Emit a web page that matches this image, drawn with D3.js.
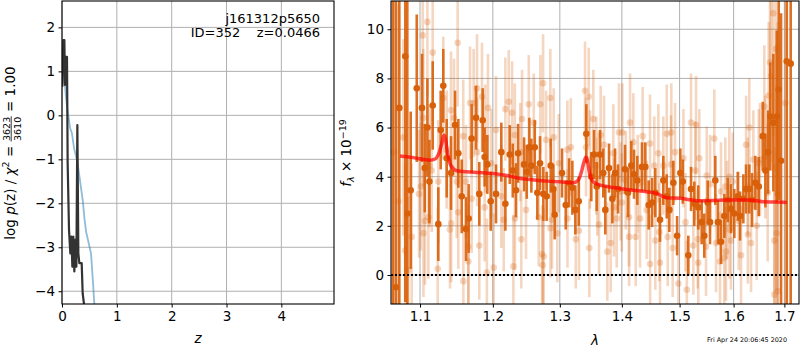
<!DOCTYPE html>
<html>
<head>
<meta charset="utf-8">
<script src="https://cdn.jsdelivr.net/npm/d3@7"></script>
<style>
  body { margin: 0; background: #fff; }
  svg { display: block; font-family: "DejaVu Sans", sans-serif; }
</style>
</head>
<body>
<div id="chart"></div>
<script>
// ---- data ----
// left panel: log p(z) curves
const zFit = [0.006, 0.024, 0.043, 0.055, 0.067, 0.091, 0.103, 0.128, 0.152, 0.170, 0.189, 0.207, 0.225, 0.243, 0.262, 0.280, 0.298, 0.316, 0.359, 0.377, 0.401, 0.42];
const logpFit = [0.65, 1.71, 1.71, 0.69, 1.33, 1.33, -1.09, -2.61, -3.14, -2.76, -3.44, -2.76, -3.55, -2.83, -3.44, -0.22, -3.14, -3.36, -3.36, -4.05, -4.29, -4.8];
const zPhot = [0.005, 0.02, 0.04, 0.07, 0.10, 0.12, 0.15, 0.18, 0.22, 0.28, 0.33, 0.38, 0.41, 0.44, 0.50, 0.53, 0.56, 0.60];
const logpPhot = [0.7, 1.2, 0.9, 0.45, 0.1, -0.05, -0.3, -0.4, -0.75, -1.05, -1.5, -1.95, -2.35, -2.65, -2.98, -3.15, -3.7, -4.5];
const zTicks = [0, 1, 2, 3, 4];
const logpTicks = [-4, -3, -2, -1, 0, 1, 2];
const objName = 'j161312p5650';
const objInfo = 'ID=352    z=0.0466';

// right panel: spectrum [lambda, flux, error]
const binned = [
  [1.0650, 12.0, 14], [1.0688, -0.5, 12], [1.0731, 6.8, 12], [1.0808, 8.9, 10], [1.0834, 2.5, 9],
  [1.0878, 3.45, 3.2], [1.0957, 7.6, 3.0], [1.1026, 6.8, 2.2], [1.1062, 4.35, 1.8], [1.1097, 6.0, 2.0],
  [1.1124, 3.8, 1.7], [1.1168, 6.9, 1.8], [1.1243, 2.07, 1.5], [1.1275, 5.9, 1.6], [1.1310, 7.7, 1.5],
  [1.1356, 4.75, 1.6], [1.1415, 4.15, 1.5], [1.1470, 6.1, 1.4], [1.1515, 4.95, 1.4], [1.1562, 3.2, 1.5],
  [1.1621, 1.87, 1.3], [1.1658, 2.3, 1.4], [1.1700, 5.55, 1.4], [1.1761, 6.4, 1.3], [1.1807, 3.3, 1.3],
  [1.1855, 6.3, 1.3], [1.1883, 4.8, 1.2], [1.1921, 4.5, 1.2], [1.1969, 3.0, 1.2], [1.2045, 3.3, 1.2],
  [1.2122, 5.0, 1.2], [1.2181, 2.9, 1.1], [1.2245, 4.9, 1.2], [1.2289, 4.25, 1.1], [1.2337, 3.45, 1.1],
  [1.2367, 4.95, 1.2], [1.2456, 4.5, 1.1], [1.2496, 4.2, 1.1], [1.2535, 5.2, 1.2], [1.2565, 4.45, 1.1],
  [1.2616, 5.2, 1.1], [1.2655, 3.35, 1.1], [1.2696, 4.55, 1.1], [1.2746, 3.3, 1.1], [1.2797, 3.2, 1.0],
  [1.2859, 4.45, 1.1], [1.2899, 3.5, 1.0], [1.2920, 2.45, 1.0], [1.3034, 4.15, 1.0], [1.3092, 2.85, 1.0],
  [1.3144, 3.75, 1.0], [1.3196, 3.55, 1.1], [1.3243, 2.65, 1.0], [1.3297, 3.0, 1.0], [1.3418, 5.75, 1.2],
  [1.3498, 4.0, 1.0], [1.3542, 4.9, 1.0], [1.3585, 3.6, 1.0], [1.3639, 4.9, 1.0], [1.3693, 4.15, 1.0],
  [1.3726, 2.65, 1.0], [1.3787, 4.35, 1.0], [1.3842, 3.1, 1.0], [1.3886, 4.15, 1.0], [1.3936, 3.5, 1.0],
  [1.4053, 4.3, 1.0], [1.4103, 3.35, 1.0], [1.4159, 4.45, 1.0], [1.4205, 4.1, 1.0], [1.4261, 3.85, 1.0],
  [1.4341, 4.4, 1.0], [1.4398, 4.4, 1.0], [1.4456, 2.85, 1.0], [1.4514, 2.95, 1.0], [1.4571, 3.35, 1.0],
  [1.4653, 2.25, 0.9], [1.4711, 3.85, 1.0], [1.4771, 3.2, 0.9], [1.4817, 2.65, 0.9], [1.4888, 3.75, 0.9],
  [1.4955, 1.6, 0.8], [1.5013, 4.15, 1.0], [1.5057, 3.8, 0.9], [1.5157, 0.8, 0.8], [1.5206, 3.5, 0.9],
  [1.5266, 2.9, 0.9], [1.5339, 2.75, 0.9], [1.5401, 2.15, 0.9], [1.5449, 1.6, 0.9], [1.5512, 2.95, 0.9],
  [1.5555, 2.15, 0.9], [1.5654, 3.85, 1.0], [1.5704, 2.15, 0.9], [1.5761, 1.35, 0.9], [1.5823, 2.4, 0.9],
  [1.5887, 3.05, 0.9], [1.5950, 2.7, 1.0], [1.6013, 2.5, 1.0], [1.6079, 3.2, 1.0], [1.6123, 2.4, 1.0],
  [1.6187, 3.1, 1.0], [1.6240, 3.5, 1.0], [1.6303, 3.5, 1.0], [1.6356, 3.05, 1.1], [1.6421, 3.75, 1.1],
  [1.6488, 3.6, 1.2], [1.6567, 5.65, 1.4], [1.6619, 4.25, 1.5], [1.6672, 5.0, 1.7], [1.6717, 6.45, 2.2],
  [1.6778, 6.2, 2.8], [1.6846, 6.45, 3.5], [1.6886, 7.55, 4.5], [1.6933, 4.65, 6], [1.7048, 8.7, 12],
  [1.7129, 8.6, 12]
];
const raw = [
  [1.0665, 5.0, 9], [1.0720, 3.0, 8], [1.0783, 5.6, 4.0], [1.0805, 1.0, 3.5], [1.0847, 0.2, 3.0],
  [1.0891, 1.55, 3.0], [1.0987, 3.3, 2.6], [1.1009, 3.6, 2.6], [1.1036, 9.75, 3.0], [1.1043, 6.4, 2.8],
  [1.1045, 1.7, 2.6], [1.1066, 2.2, 2.6], [1.1097, 10.3, 3.0], [1.1110, 2.35, 2.5], [1.1124, 4.45, 2.5],
  [1.1155, 4.25, 2.5], [1.1168, 9.05, 2.8], [1.1235, 0.25, 2.5], [1.1243, 3.8, 2.5], [1.1310, 7.2, 2.5],
  [1.1356, 5.1, 2.4], [1.1401, 1.85, 2.4], [1.1415, 6.7, 2.4], [1.1417, 2.1, 2.4], [1.1456, 6.4, 2.4],
  [1.1493, 3.8, 2.3], [1.1506, 9.45, 2.6], [1.1515, 2.55, 2.3], [1.1583, 5.65, 2.3], [1.1585, -0.25, 2.3],
  [1.1621, 3.8, 2.3], [1.1653, 1.15, 2.3], [1.1655, 0.55, 2.3], [1.1677, 7.0, 2.3], [1.1700, 3.1, 2.2],
  [1.1728, 7.0, 2.2], [1.1775, 7.6, 2.2], [1.1777, 5.0, 2.2], [1.1807, 1.2, 2.2], [1.1845, 7.25, 2.2],
  [1.1883, 2.75, 2.2], [1.1891, 5.55, 2.2], [1.1915, 0.1, 2.2], [1.1930, 6.8, 2.2], [1.1977, 4.55, 2.2],
  [1.2012, 0.3, 2.2], [1.2045, 5.9, 2.2], [1.2122, 3.2, 2.1], [1.2157, 2.25, 2.1], [1.2181, 6.75, 2.1],
  [1.2230, 7.05, 2.1], [1.2279, 6.6, 2.1], [1.2298, 0.35, 2.1], [1.2319, 5.7, 2.1], [1.2321, 2.3, 2.1],
  [1.2400, 5.0, 2.0], [1.2415, 1.45, 2.0], [1.2426, 6.35, 2.0], [1.2485, 2.65, 2.0], [1.2526, 6.95, 2.0],
  [1.2601, 6.2, 2.0], [1.2676, 2.35, 2.0], [1.2701, 6.95, 2.0], [1.2727, 0.85, 2.0], [1.2737, 0.4, 2.0],
  [1.2742, 7.8, 2.0], [1.2752, 0.75, 2.0], [1.2787, 5.5, 2.0], [1.2853, 7.2, 2.0], [1.2855, 1.9, 2.0],
  [1.2879, 2.25, 2.0], [1.2905, 5.6, 2.0], [1.2961, 1.7, 2.0], [1.2983, 4.55, 2.0], [1.3117, 5.1, 2.0],
  [1.3119, 2.3, 2.0], [1.3171, 5.2, 2.0], [1.3250, 1.45, 2.0], [1.3301, 1.8, 2.0], [1.3397, 7.5, 2.0],
  [1.3413, 5.2, 2.0], [1.3456, 7.25, 2.0], [1.3466, 1.1, 2.0], [1.3477, 4.7, 2.0], [1.3530, 6.35, 2.0],
  [1.3579, 4.45, 2.0], [1.3595, 3.6, 2.0], [1.3623, 2.05, 2.0], [1.3650, 5.7, 2.0], [1.3705, 5.3, 2.0],
  [1.3759, 0.95, 2.0], [1.3814, 1.3, 2.0], [1.3858, 4.95, 2.0], [1.3869, 2.75, 2.0], [1.3914, 2.3, 2.0],
  [1.3952, 5.8, 2.0], [1.3981, 3.4, 2.0], [1.3998, 2.95, 2.0], [1.4008, 5.8, 2.0], [1.4065, 3.85, 2.0],
  [1.4120, 2.35, 2.0], [1.4122, 1.55, 2.0], [1.4137, 6.2, 2.0], [1.4193, 5.4, 2.0], [1.4234, 1.55, 2.0],
  [1.4268, 3.7, 2.0], [1.4307, 2.3, 2.0], [1.4353, 5.65, 2.0], [1.4422, 2.65, 2.0], [1.4479, 5.35, 2.0],
  [1.4481, 0.45, 2.0], [1.4553, 4.45, 2.0], [1.4571, 1.4, 2.0], [1.4624, 4.95, 2.0], [1.4641, 1.75, 2.0],
  [1.4653, 0.5, 2.0], [1.4711, 4.45, 2.0], [1.4771, 5.75, 2.0], [1.4788, 1.55, 2.0], [1.4847, 4.5, 2.0],
  [1.4852, 5.8, 2.0], [1.4877, 1.1, 2.0], [1.4918, 5.0, 2.0], [1.4978, -0.35, 2.0], [1.5069, 4.75, 2.0],
  [1.5105, 2.15, 2.0], [1.5130, -0.6, 2.0], [1.5206, 6.2, 2.0], [1.5248, 1.2, 2.0], [1.5284, 4.25, 2.0],
  [1.5297, 6.1, 2.0], [1.5328, 1.45, 2.0], [1.5339, 0.5, 2.0], [1.5357, 4.75, 2.0], [1.5481, 1.15, 2.0],
  [1.5494, 4.05, 2.0], [1.5555, 3.7, 2.0], [1.5635, 5.55, 2.0], [1.5667, 1.3, 2.0], [1.5742, 0.55, 2.0],
  [1.5761, 3.4, 2.0], [1.5823, 0.7, 2.0], [1.5842, 3.6, 2.0], [1.5855, 0.95, 2.0], [1.5874, 2.65, 2.0],
  [1.5918, 4.0, 2.0], [1.5920, 1.85, 2.0], [1.5950, 1.4, 2.0], [1.5983, 3.8, 2.0], [1.6098, 2.2, 2.0],
  [1.6142, 0.8, 2.0], [1.6240, 5.3, 2.0], [1.6273, 3.6, 2.0], [1.6275, 1.65, 2.0], [1.6303, 6.0, 2.0],
  [1.6336, 1.3, 2.0], [1.6382, 4.7, 2.0], [1.6448, 2.0, 2.2], [1.6488, 4.55, 2.2], [1.6513, 4.7, 2.3],
  [1.6598, 6.85, 2.5], [1.6618, 4.8, 2.5], [1.6665, 3.35, 2.8], [1.6685, 7.3, 3.0], [1.6711, 8.65, 3.5],
  [1.6731, 8.1, 3.5], [1.6777, 10.65, 5], [1.6798, 1.4, 5], [1.6800, -0.8, 6], [1.6832, 9.2, 6],
  [1.6834, 4.35, 5], [1.6846, 1.7, 6], [1.6866, 3.3, 7], [1.6868, -0.65, 8], [1.7021, 7.0, 10]
];
const modelWave = [1.074, 1.09, 1.105, 1.113, 1.12, 1.125, 1.129, 1.132, 1.1345, 1.1365, 1.140, 1.144, 1.147, 1.155, 1.163, 1.18, 1.2, 1.22, 1.24, 1.26, 1.28, 1.30, 1.321, 1.329, 1.334, 1.338, 1.3413, 1.344, 1.3466, 1.350, 1.353, 1.364, 1.38, 1.4025, 1.42, 1.442, 1.459, 1.468, 1.477, 1.501, 1.52, 1.537, 1.56, 1.586, 1.625, 1.645, 1.658, 1.68, 1.705];
const modelFlux = [4.84, 4.78, 4.7, 4.67, 4.72, 4.95, 5.35, 5.7, 5.45, 5.0, 4.55, 4.35, 4.27, 4.22, 4.2, 4.17, 4.13, 4.05, 3.93, 3.87, 3.82, 3.79, 3.75, 3.86, 4.2, 4.6, 4.8, 4.6, 4.2, 3.9, 3.79, 3.66, 3.58, 3.5, 3.45, 3.39, 3.32, 3.22, 3.14, 3.12, 3.06, 3.02, 3.03, 3.05, 3.05, 3.02, 2.98, 2.97, 2.95];
const waveTicks = [1.1, 1.2, 1.3, 1.4, 1.5, 1.6, 1.7];
const fluxTicks = [0, 2, 4, 6, 8, 10];
const stamp = 'Fri Apr 24 20:06:45 2020';

// ---- drawing ----
const W = 800, H = 350;
const svg = d3.select('#chart').append('svg').attr('width', W).attr('height', H);
const gridColor = '#b0b0b0';
const orange = '#d9600a';

const left = { x0: 62, x1: 334, y0: 1, y1: 304 };
const right = { x0: 391, x1: 799, y0: 1, y1: 304 };

const zx = d3.scaleLinear().domain([0, 4.96]).range([left.x0, left.x1]);
const zy = d3.scaleLinear().domain([-4.29, 2.6]).range([left.y1, left.y0]);
const wx = d3.scaleLog().domain([1.0625, 1.730]).range([right.x0, right.x1]);
const fy = d3.scaleLinear().domain([-1.18, 11.15]).range([right.y1, right.y0]);

const defs = svg.append('defs');
[['clipL', left], ['clipR', right]].forEach(([id, b]) => {
    defs.append('clipPath').attr('id', id).append('rect')
        .attr('x', b.x0).attr('y', b.y0).attr('width', b.x1 - b.x0).attr('height', b.y1 - b.y0);
});

function grid(x, y, xt, yt, b) {
    const g = svg.append('g').attr('stroke', gridColor).attr('stroke-width', 1);
    g.selectAll('.gx').data(xt).join('line')
        .attr('x1', d => x(d)).attr('x2', d => x(d)).attr('y1', b.y0).attr('y2', b.y1);
    g.selectAll('.gy').data(yt).join('line')
        .attr('y1', d => y(d)).attr('y2', d => y(d)).attr('x1', b.x0).attr('x2', b.x1);
}

function axes(x, y, xt, yt, b, xf, yf) {
    const gx = svg.append('g').attr('transform', `translate(0,${b.y1})`)
        .call(d3.axisBottom(x).tickValues(xt).tickFormat(xf).tickSize(3.5).tickPadding(3.5));
    const gy = svg.append('g').attr('transform', `translate(${b.x0},0)`)
        .call(d3.axisLeft(y).tickValues(yt).tickFormat(yf).tickSize(3.5).tickPadding(3.5));
    [gx, gy].forEach(g => {
        g.select('.domain').remove();
        g.selectAll('text').attr('font-size', '13.5px').attr('font-family', '"DejaVu Sans"').attr('fill', '#000');
        g.selectAll('line').attr('stroke', '#000');
    });
    svg.append('rect').attr('x', b.x0).attr('y', b.y0).attr('width', b.x1 - b.x0).attr('height', b.y1 - b.y0)
        .attr('fill', 'none').attr('stroke', '#000').attr('stroke-width', 1.1);
}

// left panel
grid(zx, zy, zTicks, logpTicks, left);
const lp = svg.append('g').attr('clip-path', 'url(#clipL)');
const zLine = d3.line().x(d => zx(d[0])).y(d => zy(d[1]));
lp.append('path').datum(d3.zip(zPhot, logpPhot)).attr('d', zLine)
    .attr('fill', 'none').attr('stroke', '#1f77b4').attr('stroke-opacity', 0.5).attr('stroke-width', 1.8);
lp.append('path').datum(d3.zip(zFit, logpFit)).attr('d', zLine)
    .attr('fill', 'none').attr('stroke', '#333').attr('stroke-width', 2.2).attr('stroke-linejoin', 'round');
axes(zx, zy, zTicks, logpTicks, left, d3.format('d'), d3.format('d'));

svg.append('text').attr('x', 320).attr('y', 22.5).attr('text-anchor', 'end')
    .attr('font-size', '13px').text(objName);
svg.append('text').attr('x', 320).attr('y', 36.5).attr('text-anchor', 'end')
    .attr('font-size', '13px').style('white-space', 'pre').text(objInfo);

// right panel
grid(wx, fy, waveTicks, fluxTicks, right);
const rp = svg.append('g').attr('clip-path', 'url(#clipR)');

const rawG = rp.append('g');
rawG.selectAll('line').data(raw).join('line')
    .attr('x1', d => wx(d[0])).attr('x2', d => wx(d[0]))
    .attr('y1', d => fy(d[1] - d[2])).attr('y2', d => fy(d[1] + d[2]))
    .attr('stroke', orange).attr('stroke-opacity', 0.26).attr('stroke-width', 2.6);
rawG.selectAll('circle').data(raw).join('circle')
    .attr('cx', d => wx(d[0])).attr('cy', d => fy(d[1])).attr('r', 3.3)
    .attr('fill', orange).attr('fill-opacity', 0.26);

const binG = rp.append('g');
binG.selectAll('line').data(binned).join('line')
    .attr('x1', d => wx(d[0])).attr('x2', d => wx(d[0]))
    .attr('y1', d => fy(d[1] - d[2])).attr('y2', d => fy(d[1] + d[2]))
    .attr('stroke', orange).attr('stroke-opacity', 0.9).attr('stroke-width', 2.6);
binG.selectAll('circle').data(binned).join('circle')
    .attr('cx', d => wx(d[0])).attr('cy', d => fy(d[1])).attr('r', 3.3)
    .attr('fill', orange);

rp.append('path').datum(d3.zip(modelWave, modelFlux))
    .attr('d', d3.line().x(d => wx(d[0])).y(d => fy(d[1])).curve(d3.curveMonotoneX))
    .attr('fill', 'none').attr('stroke', 'red').attr('stroke-opacity', 0.7).attr('stroke-width', 3.5);

rp.append('line').attr('x1', right.x0).attr('x2', right.x1).attr('y1', fy(0)).attr('y2', fy(0))
    .attr('stroke', '#000').attr('stroke-width', 2).attr('stroke-dasharray', '2,2');

axes(wx, fy, waveTicks, fluxTicks, right, d3.format('.1f'), d3.format('d'));

// axis labels
svg.append('text').attr('x', (left.x0 + left.x1) / 2).attr('y', 343).attr('text-anchor', 'middle')
    .attr('font-size', '13.5px').attr('font-style', 'italic').text('z');
svg.append('text').attr('x', (right.x0 + right.x1) / 2).attr('y', 345).attr('text-anchor', 'middle')
    .attr('font-size', '13.5px').attr('font-style', 'italic').text('λ');

// left y label with stacked fraction
(function () {
    const outer = svg.append('g').attr('transform', 'translate(14.5,153) rotate(-90)');
    const g = outer.append('g');
    const t1 = g.append('text').attr('font-size', '13.5px').style('white-space', 'pre');
    t1.append('tspan').text('log ');
    t1.append('tspan').attr('font-style', 'italic').text('p');
    t1.append('tspan').text('(z) / ');
    t1.append('tspan').attr('font-style', 'italic').text('χ');
    t1.append('tspan').attr('font-size', '9.5px').attr('dy', -5.5).text('2');
    t1.append('tspan').attr('dy', 5.5).text(' = ');
    const w1 = t1.node().getComputedTextLength();
    const num = g.append('text').attr('font-size', '9.5px').attr('y', -4.8).text('3623');
    const den = g.append('text').attr('font-size', '9.5px').attr('y', 6.3).text('3610');
    const fw = Math.max(num.node().getComputedTextLength(), den.node().getComputedTextLength()) + 1;
    num.attr('x', w1 + fw / 2).attr('text-anchor', 'middle');
    den.attr('x', w1 + fw / 2).attr('text-anchor', 'middle');
    g.append('line').attr('x1', w1).attr('x2', w1 + fw).attr('y1', -3.3).attr('y2', -3.3)
        .attr('stroke', '#000').attr('stroke-width', 0.8);
    const t3 = g.append('text').attr('font-size', '13.5px').attr('x', w1 + fw).style('white-space', 'pre').text(' = 1.00');
    const total = w1 + fw + t3.node().getComputedTextLength();
    g.attr('transform', `translate(${-total / 2},0)`);
})();

// right y label
(function () {
    const outer = svg.append('g').attr('transform', 'translate(351,153) rotate(-90)');
    const t = outer.append('text').attr('font-size', '13.5px').style('white-space', 'pre');
    t.append('tspan').attr('font-style', 'italic').text('f');
    t.append('tspan').attr('font-size', '9.5px').attr('font-style', 'italic').attr('dy', 3).text('λ');
    t.append('tspan').attr('dy', -3).text(' × 10');
    t.append('tspan').attr('font-size', '9.5px').attr('dy', -5.5).text('−19');
    const w = t.node().getComputedTextLength();
    t.attr('x', -w / 2);
})();

svg.append('text').attr('x', 787).attr('y', 341.5).attr('text-anchor', 'end')
    .attr('font-size', '6.4px').text(stamp);
</script>
</body>
</html>
